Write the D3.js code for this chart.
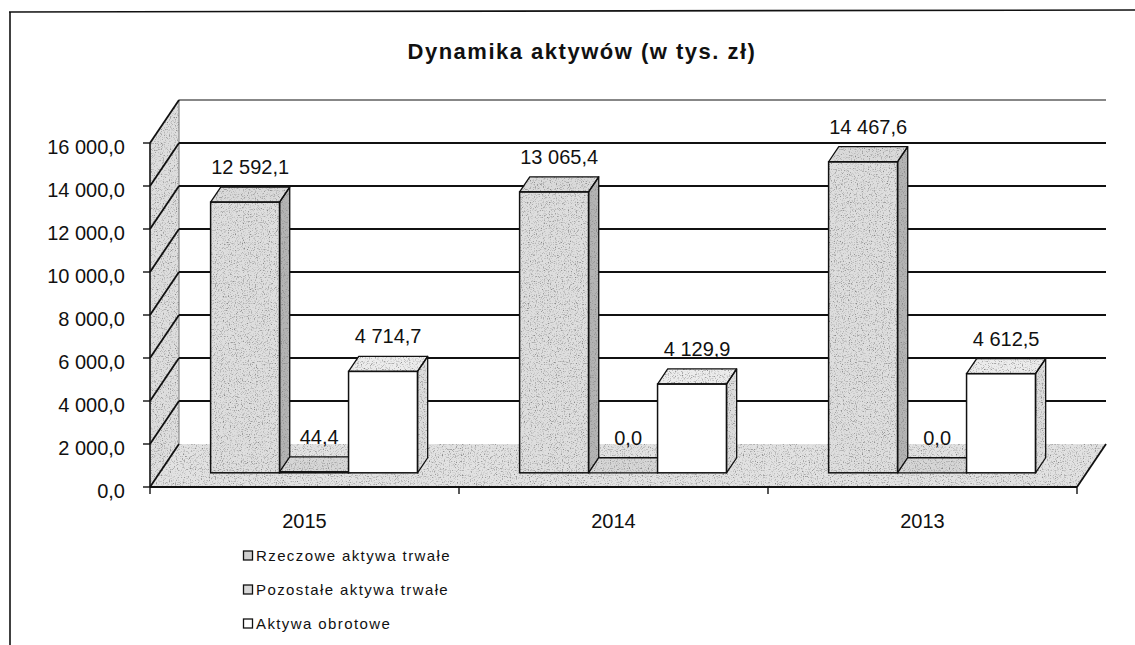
<!DOCTYPE html>
<html>
<head>
<meta charset="utf-8">
<script src="https://cdn.jsdelivr.net/npm/d3@7"></script>
<style>
  html, body { margin: 0; padding: 0; background: #fff; }
  svg text { font-family: "Liberation Sans", Arial, sans-serif; fill: #111; }
</style>
</head>
<body>
<svg id="chart" width="1135" height="645"></svg>
<script>
// ---- data ----
const categories = ["2015", "2014", "2013"];
const seriesNames = ["Rzeczowe aktywa trwałe", "Pozostałe aktywa trwałe", "Aktywa obrotowe"];
const rzeczoweValues = [12592.1, 13065.4, 14467.6];
const pozostaleValues = [44.4, 0.0, 0.0];
const obrotoweValues = [4714.7, 4129.9, 4612.5];
const yTickValues = [0, 2000, 4000, 6000, 8000, 10000, 12000, 14000, 16000];
const title = "Dynamika aktywów (w tys. zł)";

const seriesValues = [rzeczoweValues, pozostaleValues, obrotoweValues];

// ---- styles ----
const faceColors = [
  { front: "#dedede", top: "#dadada", side: "#b4b4b4", tex: true },
  { front: "#dadada", top: "#d6d6d6", side: "#b0b0b0", tex: true },
  { front: "#ffffff", top: "#ececec", side: "#dcdcdc", tex: false }
];
const legendFill = ["#d0d0d0", "#d8d8d8", "#ffffff"];

const svg = d3.select("#chart");
const defs = svg.append("defs");
const filt = defs.append("filter").attr("id", "stipple").attr("x", 0).attr("y", 0).attr("width", "100%").attr("height", "100%");
filt.append("feTurbulence").attr("type", "fractalNoise").attr("baseFrequency", 0.85).attr("numOctaves", 2).attr("seed", 7).attr("result", "noise");
filt.append("feColorMatrix").attr("in", "noise").attr("type", "matrix")
  .attr("values", "0 0 0 0 0.25  0 0 0 0 0.25  0 0 0 0 0.25  0 0 0 -3.2 1.55").attr("result", "dots");
filt.append("feComposite").attr("in", "dots").attr("in2", "SourceGraphic").attr("operator", "in").attr("result", "clipped");
const merge = filt.append("feMerge");
merge.append("feMergeNode").attr("in", "SourceGraphic");
merge.append("feMergeNode").attr("in", "clipped");

const pl = d3.formatLocale({ decimal: ",", thousands: "\u00a0", grouping: [3], currency: ["", " zł"] });
const fmt = pl.format(",.1f");

// frame
svg.append("line").attr("x1", 10).attr("y1", 12).attr("x2", 10).attr("y2", 645).attr("stroke", "#111").attr("stroke-width", 1.6);
svg.append("line").attr("x1", 9).attr("y1", 12).attr("x2", 1135).attr("y2", 10).attr("stroke", "#111").attr("stroke-width", 1.6);

// title
svg.append("text").attr("x", 582).attr("y", 59).attr("text-anchor", "middle")
  .style("font-size", "22px").style("font-weight", "bold").style("letter-spacing", "1.5px")
  .text(title);

// ---- 3D geometry ----
const DX = 29, DY = -43;
const x = d3.scaleBand().domain(categories).range([150, 1077]).paddingInner(0).paddingOuter(0);
const inner = d3.scaleBand().domain(seriesNames).range([0, x.bandwidth()]).paddingInner(0).paddingOuter(0.74);
const y = d3.scaleLinear().domain([0, 16000]).range([487, 143]);
const f1 = 0.33, f2 = 0.68;

const gWalls = svg.append("g");
// back wall
gWalls.append("rect").attr("x", 150 + DX).attr("y", y(16000) + DY)
  .attr("width", 1077 - 150).attr("height", y(0) - y(16000)).attr("fill", "#fff");
// left wall
gWalls.append("polygon")
  .attr("points", [[150, y(0)], [150, y(16000)], [150 + DX, y(16000) + DY], [150 + DX, y(0) + DY]].join(" "))
  .attr("fill", "#dedede").attr("filter", "url(#stipple)");
// floor
gWalls.append("polygon")
  .attr("points", [[150, y(0)], [1077, y(0)], [1077 + DX, y(0) + DY], [150 + DX, y(0) + DY]].join(" "))
  .attr("fill", "#e2e2e2").attr("filter", "url(#stipple)");
// left wall edges
gWalls.append("line").attr("x1", 150 + DX).attr("x2", 150 + DX).attr("y1", y(16000) + DY).attr("y2", y(0) + DY)
  .attr("stroke", "#777").attr("stroke-width", 1);

// gridlines: back wall + left wall diagonals
yTickValues.forEach(t => {
  if (t > 0) {
    gWalls.append("line").attr("x1", 150 + DX).attr("x2", 1077 + DX)
      .attr("y1", y(t) + DY).attr("y2", y(t) + DY)
      .attr("stroke", "#111").attr("stroke-width", t === 16000 ? 1.2 : 1.8);
  }
  gWalls.append("line").attr("x1", 150).attr("y1", y(t)).attr("x2", 150 + DX).attr("y2", y(t) + DY)
    .attr("stroke", "#111").attr("stroke-width", 1.8);
});

// value axis line and ticks
svg.append("line").attr("x1", 150).attr("x2", 150).attr("y1", y(16000)).attr("y2", y(0)).attr("stroke", "#111").attr("stroke-width", 1.6);
const yAxisG = svg.append("g");
yTickValues.forEach(t => {
  yAxisG.append("line").attr("x1", 143).attr("x2", 150).attr("y1", y(t)).attr("y2", y(t)).attr("stroke", "#111").attr("stroke-width", 1.4);
  yAxisG.append("text").attr("x", 125).attr("y", y(t) + 11).attr("text-anchor", "end")
    .style("font-size", "20px").text(fmt(t));
});

// floor front and right edges
svg.append("line").attr("x1", 150).attr("x2", 1077).attr("y1", y(0)).attr("y2", y(0)).attr("stroke", "#111").attr("stroke-width", 1.8);
svg.append("line").attr("x1", 1077).attr("x2", 1077 + DX).attr("y1", y(0)).attr("y2", y(0) + DY).attr("stroke", "#111").attr("stroke-width", 1.8);

// category ticks and labels
const bounds = categories.map(c => x(c)).concat([x(categories[categories.length - 1]) + x.bandwidth()]);
bounds.forEach(b => {
  svg.append("line").attr("x1", b).attr("x2", b).attr("y1", y(0)).attr("y2", y(0) + 7).attr("stroke", "#111").attr("stroke-width", 1.4);
});
categories.forEach(c => {
  svg.append("text").attr("x", x(c) + x.bandwidth() / 2).attr("y", 528).attr("text-anchor", "middle")
    .style("font-size", "20px").text(c);
});

// ---- bars ----
const barsG = svg.append("g");
const labelsG = svg.append("g");
const w = inner.bandwidth();
const ddx = (f2 - f1) * DX, ddy = (f2 - f1) * DY;
categories.forEach((c, ci) => {
  seriesNames.forEach((s, si) => {
    const v = seriesValues[si][ci];
    const x0 = x(c) + inner(s) + f1 * DX;
    const yb = y(0) + f1 * DY;
    const yt = y(v) + f1 * DY;
    const col = faceColors[si];
    const g = barsG.append("g");
    const side = g.append("polygon").attr("points", [[x0 + w, yt], [x0 + w + ddx, yt + ddy], [x0 + w + ddx, yb + ddy], [x0 + w, yb]].join(" "))
      .attr("fill", col.side).attr("filter", "url(#stipple)");
    const top = g.append("polygon").attr("points", [[x0, yt], [x0 + w, yt], [x0 + w + ddx, yt + ddy], [x0 + ddx, yt + ddy]].join(" "))
      .attr("fill", col.top).attr("filter", "url(#stipple)");
    const front = g.append("rect").attr("x", x0).attr("y", yt).attr("width", w).attr("height", Math.max(0, yb - yt))
      .attr("fill", col.front);
    if (col.tex) front.attr("filter", "url(#stipple)");
    // outlines
    g.append("polygon").attr("points", [[x0 + w, yt], [x0 + w + ddx, yt + ddy], [x0 + w + ddx, yb + ddy], [x0 + w, yb]].join(" "))
      .attr("fill", "none").attr("stroke", "#111").attr("stroke-width", 1.3).attr("stroke-linejoin", "round");
    g.append("polygon").attr("points", [[x0, yt], [x0 + w, yt], [x0 + w + ddx, yt + ddy], [x0 + ddx, yt + ddy]].join(" "))
      .attr("fill", "none").attr("stroke", "#111").attr("stroke-width", 1.3).attr("stroke-linejoin", "round");
    g.append("rect").attr("x", x0).attr("y", yt).attr("width", w).attr("height", Math.max(0, yb - yt))
      .attr("fill", "none").attr("stroke", "#111").attr("stroke-width", 1.5);
    labelsG.append("text").attr("x", x0 + (w + ddx) / 2).attr("y", yt + ddy - 13)
      .attr("text-anchor", "middle").style("font-size", "20px").text(fmt(v));
  });
});

// ---- legend ----
const legendYs = [561, 595, 629];
seriesNames.forEach((s, i) => {
  const ly = legendYs[i];
  svg.append("rect").attr("x", 243.5).attr("y", ly - 10).attr("width", 9).attr("height", 9)
    .attr("fill", legendFill[i]).attr("stroke", "#111").attr("stroke-width", 1.3);
  svg.append("text").attr("x", 256).attr("y", ly).style("font-size", "15px").style("letter-spacing", "1.4px").text(s);
});
</script>
</body>
</html>
